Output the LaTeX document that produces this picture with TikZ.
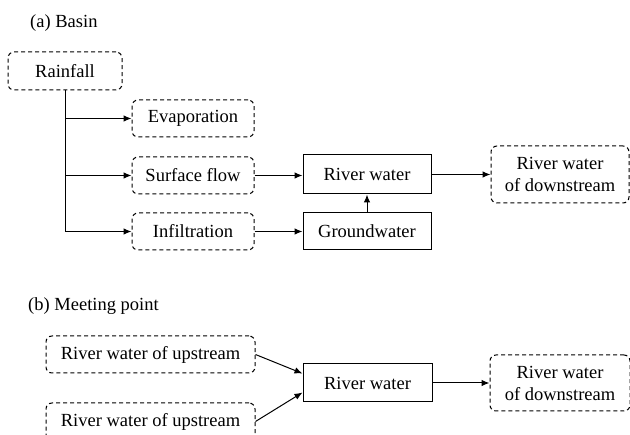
\documentclass[tikz,border=0pt]{standalone}
\usepackage{fontspec}
\setmainfont{Liberation Serif}
\newfontfamily\tnrfont{Liberation Serif}
\usetikzlibrary{arrows.meta}
\begin{document}
\begin{tikzpicture}[x=1pt,y=-1pt,
  every node/.style={font=\tnrfont\fontsize{18.5}{22}\selectfont, text=black, inner sep=0pt},
  dbox/.style={draw=black, line width=1pt, dash pattern=on 4pt off 3pt, rounded corners=6pt, align=center},
  sbox/.style={draw=black, line width=1pt, align=center},
  arr/.style={draw=black, line width=1pt, -{Latex[length=8pt,width=6.5pt]}},
  ln/.style={draw=black, line width=1pt}
]
\useasboundingbox (0,0) rectangle (630,435);
\clip (0,0) rectangle (630,435);
% (a)
\node[anchor=base west] (ta) at (30,27.5) {(a) Basin};
\node[dbox, minimum width=114pt, minimum height=38pt] (rain) at (65,71) {Rainfall};
\node[dbox, minimum width=122pt, minimum height=37pt] (evap) at (193,118.5) {Evaporation};
\node[dbox, minimum width=122pt, minimum height=37pt] (surf) at (193,175.5) {Surface flow};
\node[dbox, minimum width=122pt, minimum height=37pt] (infl) at (193,231.5) {Infiltration};
\node[sbox, minimum width=128pt, minimum height=39pt] (rwa) at (367,174.5) {River water};
\node[sbox, minimum width=128pt, minimum height=37pt] (gw) at (367,231.5) {Groundwater};
\node[dbox, minimum width=138pt, minimum height=57pt] (dsa) at (560,174.5) {River water\\of downstream};
\coordinate (j3) at (65,231.5);
\draw[ln] (rain.south) -- (j3);
\draw[arr] (65,118.5) -- (evap.west);
\draw[arr] (65,175.5) -- (surf.west);
\draw[arr] (j3) -- (infl.west);
\draw[arr] (surf.east) -- (surf.east -| rwa.west);
\draw[arr] (infl.east) -- (gw.west);
\draw[arr] (gw.north) -- (rwa.south);
\draw[arr] (rwa.east) -- (rwa.east -| dsa.west);
% (b)
\node[anchor=base west] (tb) at (28,311) {(b) Meeting point};
\node[dbox, minimum width=209pt, minimum height=37pt] (up1) at (150.5,354.5) {River water of upstream};
\node[dbox, minimum width=209pt, minimum height=37pt] (up2) at (150.5,421.5) {River water of upstream};
\node[sbox, minimum width=129pt, minimum height=38pt] (rwb) at (367.5,383) {River water};
\node[dbox, minimum width=140pt, minimum height=56pt] (dsb) at (560,383) {River water\\of downstream};
\draw[arr] (up1.east) -- ([yshift=9.5pt]rwb.west);
\draw[arr] (up2.east) -- ([yshift=-9.5pt]rwb.west);
\draw[arr] (rwb.east) -- (dsb.west);
\end{tikzpicture}
\end{document}
